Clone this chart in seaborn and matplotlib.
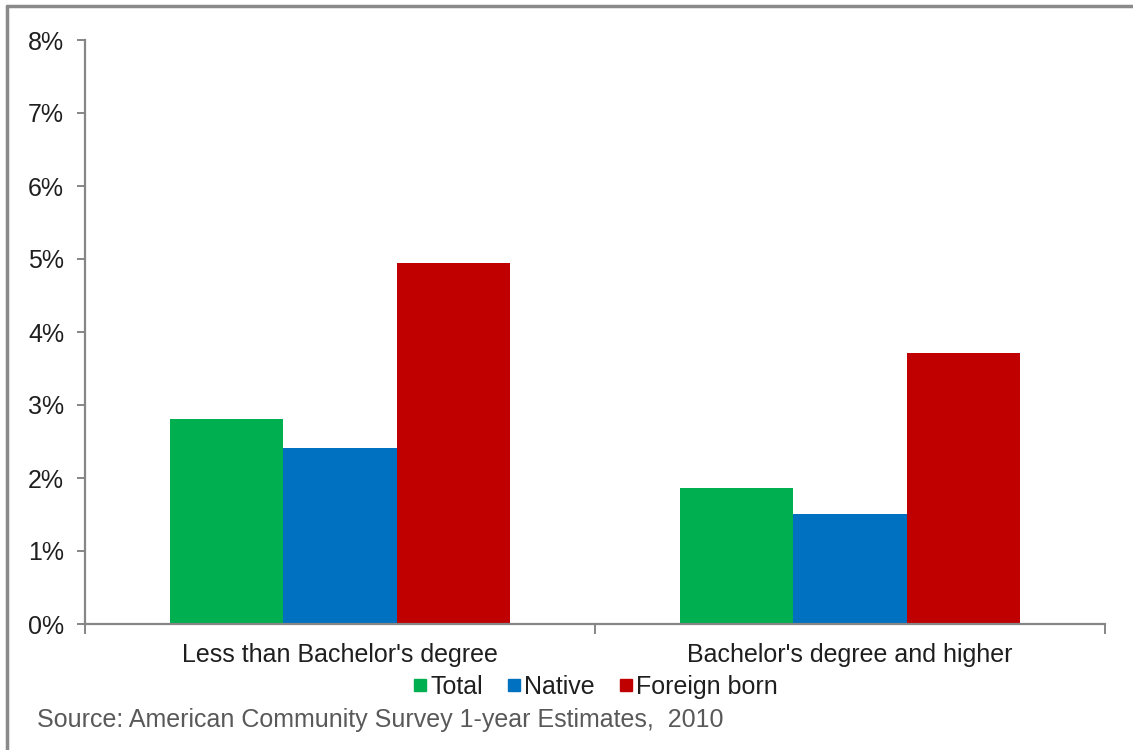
import matplotlib
matplotlib.use("Agg")
import matplotlib.pyplot as plt
from matplotlib.lines import Line2D
from matplotlib.ticker import FixedLocator, PercentFormatter
import pandas as pd
import seaborn as sns

categories = ["Less than Bachelor's degree", "Bachelor's degree and higher"]
series = ["Total", "Native", "Foreign born"]
total = [2.81, 1.86]
native = [2.41, 1.51]
foreign_born = [4.95, 3.71]
colors = ["#00B050", "#0070C0", "#C00000"]
y_ticks = [0, 1, 2, 3, 4, 5, 6, 7, 8]
source_text = "Source: American Community Survey 1-year Estimates,  2010"

rows = []
for name, vals in zip(series, [total, native, foreign_born]):
    for cat, v in zip(categories, vals):
        rows.append({"Education": cat, "Nativity": name, "Rate": v})
df = pd.DataFrame(rows)

sns.set_theme(style="white")
plt.rcParams["font.family"] = ["Liberation Sans", "DejaVu Sans"]

fig = plt.figure(figsize=(11.33, 7.5), dpi=100)
W, H = 1133, 750
ax = fig.add_axes([85 / W, 1 - 624 / H, (1105 - 85) / W, (624 - 40) / H])

sns.barplot(data=df, x="Education", y="Rate", hue="Nativity",
            order=categories, hue_order=series, palette=colors,
            width=0.666, saturation=1, errorbar=None, ax=ax, legend=False,
            linewidth=0, edgecolor="none")

axis_gray = "#868686"
text_color = "#1f1f1f"
fs = 18
ax.set_xlim(-0.5, 1.5)
ax.set_ylim(0, 8)
ax.set_yticks(y_ticks)
ax.yaxis.set_major_formatter(PercentFormatter(decimals=0))
ax.set_xlabel("")
ax.set_ylabel("")
for side in ["top", "right"]:
    ax.spines[side].set_visible(False)
for side in ["left", "bottom"]:
    ax.spines[side].set_color(axis_gray)
    ax.spines[side].set_linewidth(1.6)

ax.tick_params(axis="y", which="major", direction="out", length=6, width=1.4,
               color=axis_gray, labelsize=fs, labelcolor=text_color, pad=9, left=True)
ax.tick_params(axis="x", which="major", length=0, labelsize=fs,
               labelcolor=text_color, pad=14)
ax.xaxis.set_minor_locator(FixedLocator([-0.5, 0.5, 1.5]))
ax.tick_params(axis="x", which="minor", direction="out", length=7, width=1.4,
               color=axis_gray, bottom=True)

handles = [Line2D([0], [0], marker="s", linestyle="none", markersize=9,
                  markerfacecolor=c, markeredgecolor=c) for c in colors]
fig.legend(handles, series, loc="center", bbox_to_anchor=(596 / W, 1 - 687 / H),
           ncol=3, frameon=False, fontsize=fs, handlelength=0.5,
           handletextpad=0.15, columnspacing=1.0, labelcolor=text_color,
           borderpad=0)

fig.text(37 / W, 1 - 720 / H, source_text, ha="left", va="center",
         fontsize=fs, color="#595959")

# thin frame along the top and left edges of the figure
fig.add_artist(Line2D([7 / W, 1.0], [1 - 6 / H, 1 - 6 / H], color="#8a8a8a",
                      linewidth=2.5, transform=fig.transFigure))
fig.add_artist(Line2D([7 / W, 7 / W], [0.0, 1 - 6 / H], color="#8a8a8a",
                      linewidth=2.5, transform=fig.transFigure))

fig.savefig("out.png", dpi=100, facecolor="white")
